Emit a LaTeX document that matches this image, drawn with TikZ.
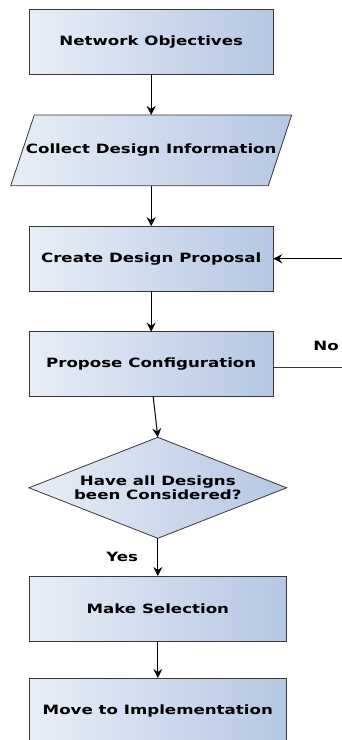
\documentclass[tikz,border=0pt]{standalone}
\usepackage{fontspec}
\setmainfont{DejaVu Sans}[FakeStretch=1.3]
\usetikzlibrary{shapes.geometric,arrows.meta}
\definecolor{boxleft}{RGB}{232,238,247}
\definecolor{boxright}{RGB}{181,199,227}
\definecolor{edgegray}{RGB}{55,55,55}
\begin{document}
\begin{tikzpicture}[x=1pt,y=-1pt,
  flowfill/.style={draw=edgegray, line width=0.8pt, left color=boxleft, right color=boxright},
  flowtext/.style={font=\bfseries\fontsize{12.8}{14}\selectfont, inner sep=0pt, outer sep=0pt, align=center},
  stepbox/.style={flowfill, flowtext, rectangle, minimum width=#1, minimum height=65pt},
  iobox/.style={flowtext, minimum width=257.5pt, minimum height=70.7pt},
  askbox/.style={flowfill, flowtext, diamond, aspect=2.5, minimum width=257.7pt, minimum height=101pt},
  flowarrow/.style={-{Stealth[length=9pt,width=9pt,inset=3pt]}, line width=1pt},
  flowlabel/.style={font=\bfseries\fontsize{12.8}{14}\selectfont, anchor=base}]
\useasboundingbox (0,0) rectangle (342,740);
\clip (0,0) rectangle (342,740);
\node [stepbox=244pt] (objectives) at (151.2,41.7) {Network Objectives};
\path [flowfill] (34.3,115) -- (291.7,115) -- (268.3,185.7) -- (10.7,185.7) -- cycle;
\node [iobox] (collect) at (151.2,150.3) {Collect Design Information};
\node [stepbox=244pt] (proposal) at (151.2,258.7) {Create Design Proposal};
\node [stepbox=244pt] (configure) at (151.2,364.2) {Propose Configuration};
\node [askbox] (considered) at (157.8,487.8) {Have all Designs\\been Considered?};
\node [stepbox=257.7pt] (selection) at (157.8,608.5) {Make Selection};
\node [stepbox=257.7pt] (implement) at (157.8,710.5) {Move to Implementation};
\coordinate (loopin) at (342,258.7);
\coordinate (loopout) at (342,367.3);
\draw [flowarrow] (objectives) -- (collect);
\draw [flowarrow] (collect) -- (proposal);
\draw [flowarrow] (proposal) -- (configure);
\draw [flowarrow] ([xshift=2pt]configure.south) -- (considered.north);
\draw [flowarrow] (considered) -- (selection) node [flowlabel, pos=0.5, left=16pt] {Yes};
\draw [flowarrow] (selection) -- (implement);
\draw [flowarrow] (loopin) -- (proposal.east);
\draw [line width=0.8pt, edgegray] ([yshift=-3.1pt]configure.east) -- (loopout);
\node [flowlabel] (nolabel) at (326,350) {No};
\end{tikzpicture}
\end{document}
